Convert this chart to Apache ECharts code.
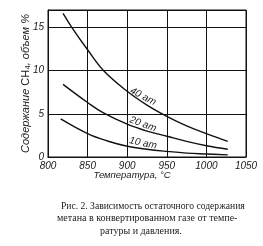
<!DOCTYPE html>
<html>
<head>
<meta charset="utf-8">
<script src="https://cdn.jsdelivr.net/npm/echarts@6/dist/echarts.min.js"></script>
<style>
html,body{margin:0;padding:0;background:#fff;}
#chart{width:263px;height:246px;}
</style>
</head>
<body>
<div id="chart"></div>
<script>
// Data
const temps40 = [819, 830, 850, 870, 900, 925, 950, 975, 1000, 1027];
const ch4_40 = [16.6, 15.0, 12.4, 10.0, 7.6, 6.0, 4.7, 3.6, 2.7, 1.8];
const temps20 = [819, 850, 870, 900, 925, 950, 975, 1000, 1027];
const ch4_20 = [8.4, 6.3, 5.1, 3.8, 3.0, 2.4, 1.8, 1.3, 0.9];
const temps10 = [816, 850, 875, 900, 925, 950, 975, 1000, 1027];
const ch4_10 = [4.4, 2.7, 1.85, 1.25, 0.9, 0.65, 0.45, 0.35, 0.25];
const seriesNames = ['40 ат', '20 ат', '10 ат'];
const labelPoints = [[920, 7.0], [920, 3.8], [920, 1.6]];
const labelAngles = [-28, -20, -12];
const xTicks = [800, 850, 900, 950, 1000, 1050];
const yTicks = [0, 5, 10, 15];
const xName = 'Температура, °C';
const captionLines = [
  'Рис. 2. Зависимость остаточного содержания',
  'метана в конвертированном газе от темпе-',
  'ратуры и давления.'
];

const pair = (xs, ys) => xs.map((x, i) => [x, ys[i]]);
const datasets = [pair(temps40, ch4_40), pair(temps20, ch4_20), pair(temps10, ch4_10)];

const ital = {fontFamily: 'Liberation Sans', fontStyle: 'italic', color: '#1a1a1a'};

const chart = echarts.init(document.getElementById('chart'), null, {renderer: 'canvas'});
chart.setOption({
  backgroundColor: '#ffffff',
  animation: false,
  grid: {left: 48, right: 17, top: 10, bottom: 89, show: true, borderColor: '#111', borderWidth: 1},
  xAxis: {
    type: 'value', min: 800, max: 1050, interval: 50,
    axisLine: {show: true, lineStyle: {color: '#111', width: 1}},
    axisTick: {show: false},
    splitLine: {show: true, lineStyle: {color: '#111', width: 1}},
    axisLabel: Object.assign({fontSize: 10, margin: 4,
      formatter: v => xTicks.indexOf(v) >= 0 ? String(v) : ''}, ital),
    name: xName, nameLocation: 'middle', nameGap: 13, nameMoveOverlap: false,
    nameTextStyle: Object.assign({fontSize: 9.5, padding: [0, 30, 0, 0]}, ital)
  },
  yAxis: {
    type: 'value', min: 0, max: 17, interval: 5,
    axisLine: {show: true, lineStyle: {color: '#111', width: 1}},
    axisTick: {show: false},
    splitLine: {show: true, lineStyle: {color: '#111', width: 1}},
    axisLabel: Object.assign({fontSize: 10, margin: 4,
      formatter: v => yTicks.indexOf(v) >= 0 ? String(v) : ''}, ital),
    name: '{i|Содержание }{r|CH₄}{i|, объем %}',
    nameLocation: 'middle', nameGap: 17, nameMoveOverlap: false,
    nameTextStyle: {
      rich: {
        i: Object.assign({fontSize: 11}, ital),
        r: {fontSize: 11, fontFamily: 'Liberation Sans, DejaVu Sans', color: '#1a1a1a'}
      }
    }
  },
  series: datasets.map((d, k) => ({
    type: 'line', name: seriesNames[k], data: d, smooth: 0.4,
    showSymbol: false, symbol: 'none',
    lineStyle: {color: '#111', width: 1.4},
    markPoint: {
      symbol: 'circle', symbolSize: 0,
      data: [{coord: labelPoints[k], value: seriesNames[k]}],
      label: Object.assign({show: true, position: 'inside', fontSize: 10,
        rotate: labelAngles[k], formatter: seriesNames[k]}, ital)
    }
  })),
  graphic: captionLines.map((t, i) => ({
    type: 'text',
    left: [61, 57, 100][i],
    top: 201 + i * 12.5,
    style: {text: t, font: (i === 0 ? '9.6px' : '10px') + ' "Liberation Serif"', fill: '#222'}
  }))
});
</script>
</body>
</html>
